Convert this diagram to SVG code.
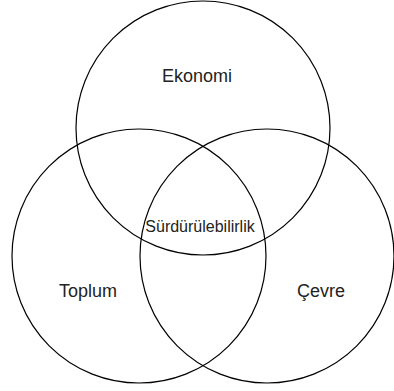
<svg xmlns="http://www.w3.org/2000/svg" width="394" height="391" viewBox="0 0 394 391">
<style>
.c{fill:none;stroke:#000;stroke-width:1.2}
.t{font-family:"Liberation Sans",Arial,sans-serif;font-size:18px;fill:#222;text-anchor:middle}
.s{font-size:16px}
</style>
<rect width="394" height="391" fill="#fff"/>
<g id="ekonomi"><circle class="c" cx="203" cy="128" r="127"/><text class="t" x="197" y="82">Ekonomi</text></g>
<g id="toplum"><circle class="c" cx="139" cy="256" r="127"/><text class="t" x="88" y="297">Toplum</text></g>
<g id="cevre"><circle class="c" cx="267" cy="256" r="127"/><text class="t" x="321" y="297">Çevre</text></g>
<g id="surdurulebilirlik"><text class="t s" x="200" y="232">Sürdürülebilirlik</text></g>
<g id="connectors"></g>
</svg>
